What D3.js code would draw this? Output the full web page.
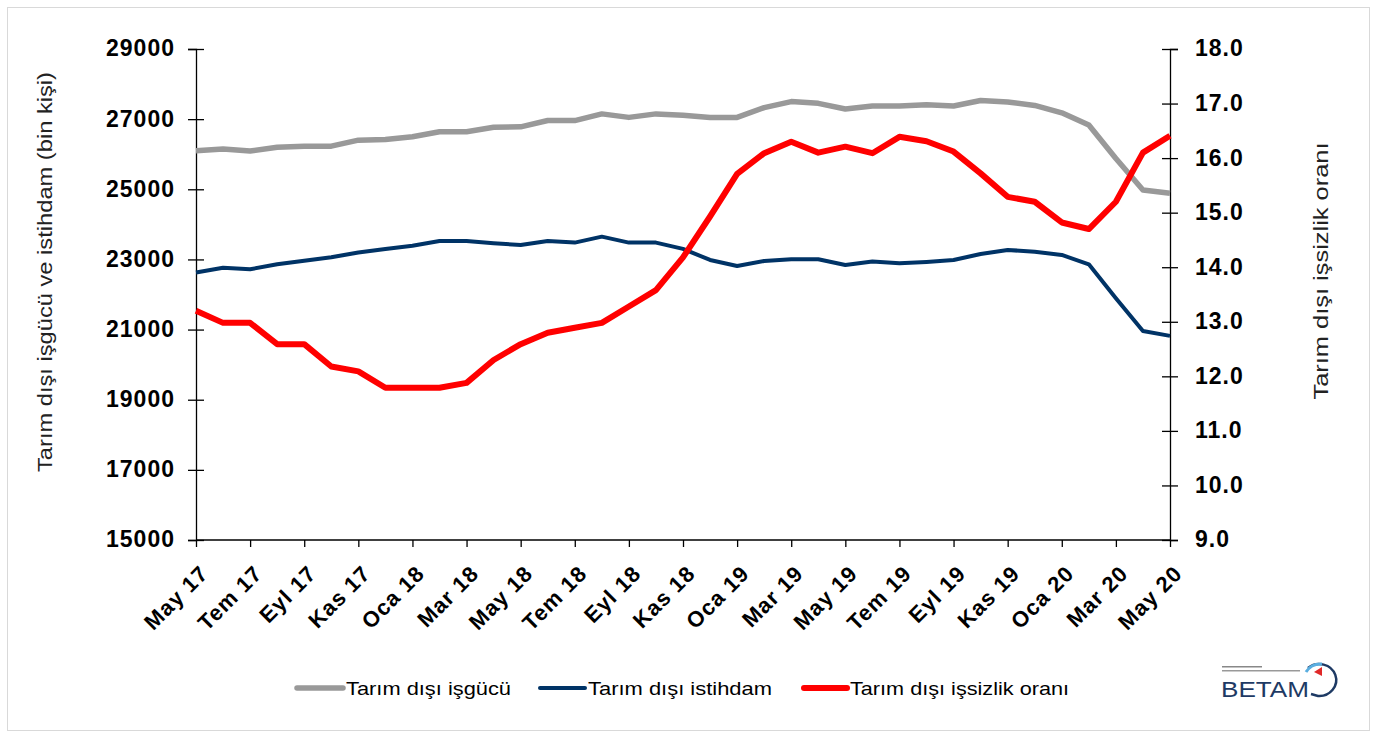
<!DOCTYPE html>
<html><head><meta charset="utf-8">
<script src="https://cdn.jsdelivr.net/npm/d3@7"></script>
<style>body{margin:0;background:#fff}svg{display:block}</style>
</head><body><svg id="c" width="1378" height="737"></svg>
<script>
const months = ["May 17","Haz 17","Tem 17","Ağu 17","Eyl 17","Eki 17","Kas 17","Ara 17","Oca 18","Şub 18","Mar 18","Nis 18","May 18","Haz 18","Tem 18","Ağu 18","Eyl 18","Eki 18","Kas 18","Ara 18","Oca 19","Şub 19","Mar 19","Nis 19","May 19","Haz 19","Tem 19","Ağu 19","Eyl 19","Eki 19","Kas 19","Ara 19","Oca 20","Şub 20","Mar 20","Nis 20","May 20"];
const isgucu = [26100,26150,26090,26200,26230,26230,26400,26420,26500,26640,26640,26770,26780,26960,26960,27150,27050,27150,27110,27050,27050,27330,27500,27450,27290,27375,27375,27410,27375,27530,27490,27390,27180,26830,25880,24980,24890];
const istihdam = [22630,22765,22720,22860,22965,23060,23200,23300,23390,23526,23526,23460,23410,23526,23480,23650,23480,23480,23300,22985,22813,22955,23004,23004,22842,22940,22890,22930,22985,23155,23270,23220,23127,22860,21890,20960,20820];
const issizlik = [13.2,12.98,12.98,12.59,12.59,12.18,12.09,11.79,11.79,11.79,11.88,12.3,12.59,12.8,12.89,12.98,13.28,13.58,14.18,14.93,15.71,16.09,16.3,16.1,16.21,16.09,16.39,16.31,16.12,15.72,15.29,15.2,14.82,14.7,15.2,16.1,16.41];
const leftTicks = [15000,17000,19000,21000,23000,25000,27000,29000];
const rightTicks = [9,10,11,12,13,14,15,16,17,18];
const names = ["Tarım dışı işgücü","Tarım dışı istihdam","Tarım dışı işsizlik oranı"];
const colors = ["#999999","#003366","#ff0000"];

const svg = d3.select("#c");
svg.append("rect").attr("x",7.5).attr("y",7.5).attr("width",1362).attr("height",723).attr("fill","#fff").attr("stroke","#d9d9d9").attr("stroke-width",1);

const x0=196, x1=1170, yT=49, yB=540;
const x = d3.scalePoint().domain(months).range([x0,x1]);
const yL = d3.scaleLinear().domain([15000,29000]).range([yB,yT]);
const yR = d3.scaleLinear().domain([9,18]).range([yB,yT]);
const font = "'Liberation Sans', Arial, sans-serif";

// left axis
const gl = svg.append("g").attr("transform",`translate(${x0},0)`)
  .call(d3.axisLeft(yL).tickValues(leftTicks).tickFormat(d3.format("d")).tickSizeOuter(0).tickSize(8).tickPadding(13));
gl.selectAll(".tick line").clone().attr("x2",8);
// right axis
const gr = svg.append("g").attr("transform",`translate(${x1},0)`)
  .call(d3.axisRight(yR).tickValues(rightTicks).tickFormat(d3.format(".1f")).tickSizeOuter(0).tickSize(8).tickPadding(17));
gr.selectAll(".tick line").clone().attr("x2",-8);
// bottom axis
const gb = svg.append("g").attr("transform",`translate(0,${yB})`)
  .call(d3.axisBottom(x).tickValues(months.filter((d,i)=>i%2===0)).tickSizeOuter(0).tickSize(7));
gb.selectAll("text").attr("text-anchor","end").attr("x",13).attr("y",35).attr("dy",0)
  .attr("transform","rotate(-45,13,35)");
[gl,gr,gb].forEach(g=>{
  g.selectAll("path,line").attr("stroke","#000").attr("stroke-width",1.3);
  g.selectAll("text").attr("font-family",font).attr("font-weight","bold").attr("fill","#000");
});
gl.selectAll("text").attr("font-size",23).attr("letter-spacing",1).attr("dy","0.3em");
gr.selectAll("text").attr("font-size",23).attr("letter-spacing",1).attr("dy","0.3em");
gb.selectAll("text").attr("font-size",22).attr("letter-spacing",1);
gb.select(".domain").attr("d",`M${x0},0H${x1}`);

// axis titles
svg.append("text").attr("transform","translate(52,272) rotate(-90)").attr("text-anchor","middle")
  .attr("font-family",font).attr("font-size",21).attr("fill","#222")
  .attr("textLength",400).attr("lengthAdjust","spacingAndGlyphs").text("Tarım dışı işgücü ve istihdam (bin kişi)");
svg.append("text").attr("transform","translate(1328,271) rotate(-90)").attr("text-anchor","middle")
  .attr("font-family",font).attr("font-size",21).attr("fill","#222")
  .attr("textLength",257).attr("lengthAdjust","spacingAndGlyphs").text("Tarım dışı işsizlik oranı");

// lines
const lineL = d3.line().x((d,i)=>x(months[i])).y(d=>yL(d));
const lineR = d3.line().x((d,i)=>x(months[i])).y(d=>yR(d));
svg.append("path").datum(isgucu).attr("d",lineL).attr("fill","none").attr("stroke",colors[0]).attr("stroke-width",5.5).attr("stroke-linejoin","round");
svg.append("path").datum(istihdam).attr("d",lineL).attr("fill","none").attr("stroke",colors[1]).attr("stroke-width",4).attr("stroke-linejoin","round");
svg.append("path").datum(issizlik).attr("d",lineR).attr("fill","none").attr("stroke",colors[2]).attr("stroke-width",6).attr("stroke-linejoin","round");

// legend
const legX = [297,540,804], legW=[46,45,43], legSW=[5.5,4,6], legTL=[165,184,219];
names.forEach((n,i)=>{
  svg.append("line").attr("x1",legX[i]).attr("x2",legX[i]+legW[i]).attr("y1",688).attr("y2",688)
    .attr("stroke",colors[i]).attr("stroke-width",legSW[i]).attr("stroke-linecap","round");
  svg.append("text").attr("x",legX[i]+legW[i]+3).attr("y",695).attr("font-family",font).attr("font-size",19)
    .attr("fill","#000").attr("textLength",legTL[i]).attr("lengthAdjust","spacingAndGlyphs").text(n);
});

// BETAM logo
const lg = svg.append("g");
lg.append("text").attr("x",1221).attr("y",697).attr("font-family",font).attr("font-size",22).attr("fill","#1e3a64")
  .attr("textLength",88).attr("lengthAdjust","spacingAndGlyphs").text("BETAM");
lg.append("path").attr("d","M1308,668 A17,16 0 1 1 1318,696 L1311,694").attr("fill","none").attr("stroke","#1e3a64").attr("stroke-width",2.5);
lg.append("path").attr("d","M1306,672 A17,16 0 0 1 1322,664").attr("fill","none").attr("stroke","#5aaee0").attr("stroke-width",3);
lg.append("path").attr("d","M1314,672 L1322,667 L1322,676 Z").attr("fill","#e02828");
lg.append("rect").attr("x",1222).attr("y",666).attr("width",40).attr("height",1.5).attr("fill","#888");
lg.append("rect").attr("x",1222).attr("y",670).attr("width",78).attr("height",1.5).attr("fill","#999");
</script></body></html>
